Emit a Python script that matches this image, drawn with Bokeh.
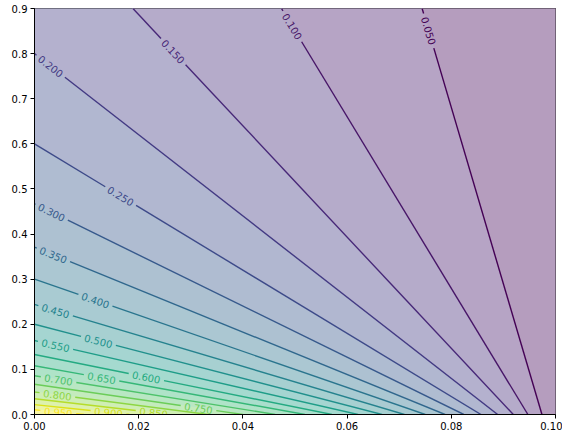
import math
from bokeh.plotting import figure
from bokeh.models import Range1d, FixedTicker, ColumnDataSource
from bokeh.core.properties import value
from bokeh.palettes import Viridis256
from bokeh.embed import file_html
from bokeh.resources import INLINE

# ---- data ----
levels = [0.05, 0.10, 0.15, 0.20, 0.25, 0.30, 0.35, 0.40, 0.45, 0.50,
          0.55, 0.60, 0.65, 0.70, 0.75, 0.80, 0.85, 0.90, 0.95]
# where each contour line meets the frame (start: top/left edge, end: bottom edge)
start_x = [0.0744, 0.0474, 0.0189, 0.0, 0.0, 0.0, 0.0, 0.0, 0.0, 0.0,
           0.0, 0.0, 0.0, 0.0, 0.0, 0.0, 0.0, 0.0, 0.0]
start_y = [0.9, 0.9, 0.9, 0.80, 0.60, 0.467, 0.371, 0.300, 0.244, 0.200,
           0.164, 0.133, 0.108, 0.086, 0.067, 0.050, 0.035, 0.022, 0.0105]
end_x = [0.0974, 0.0947, 0.0919, 0.0889, 0.0857, 0.0824, 0.0788, 0.0750, 0.0710, 0.0667,
         0.0621, 0.0571, 0.0519, 0.0462, 0.0400, 0.0333, 0.0261, 0.0182, 0.0095]
end_y = [0.0] * 19
field_min, field_max = 0.0, 1.0

x_ticks = [0.00, 0.02, 0.04, 0.06, 0.08, 0.10]
x_tick_labels = ["0.00", "0.02", "0.04", "0.06", "0.08", "0.10"]
y_ticks = [0.0, 0.1, 0.2, 0.3, 0.4, 0.5, 0.6, 0.7, 0.8, 0.9]
y_tick_labels = ["0.0", "0.1", "0.2", "0.3", "0.4", "0.5", "0.6", "0.7", "0.8", "0.9"]

# ---- layout / style ----
label_pos = [0.055, 0.044, 0.106, 0.035, 0.193, 0.040, 0.046, 0.156, 0.057, 0.184,
             0.065, 0.376, 0.248, 0.100, 0.787, 0.132, 0.876, 0.780, 0.480]
X0, X1, Y0, Y1 = 0.0, 0.1, 0.0, 0.9
W, H = 562, 435
BL, BR, BT, BB = 34, 7, 8, 21
FW, FH = W - BL - BR, H - BT - BB
sx, sy = FW / (X1 - X0), FH / (Y1 - Y0)
GAP = 18.0
ALPHA = 0.4


def viridis(v):
    v = min(max(v, 0.0), 1.0)
    return Viridis256[int(round(v * 255))]


def blend(hexc, a=ALPHA):
    rgb = [int(hexc[i:i + 2], 16) for i in (1, 3, 5)]
    return "#%02x%02x%02x" % tuple(int(round(a * c + (1 - a) * 255)) for c in rgb)


p = figure(width=W, height=H, x_range=Range1d(X0, X1), y_range=Range1d(Y0, Y1),
           output_backend="svg", toolbar_location=None,
           min_border_left=BL, min_border_right=BR, min_border_top=BT, min_border_bottom=BB)
p.background_fill_color = "white"
p.border_fill_color = "white"
p.grid.visible = False
p.outline_line_color = "black"
p.outline_line_width = 1

# ---- background bands ----
n = len(levels)
band_xs, band_ys, band_cols = [], [], []
norm = lambda v: (v - field_min) / (field_max - field_min)
band_xs.append([start_x[0], X1, X1, end_x[0]])
band_ys.append([start_y[0], Y1, Y0, end_y[0]])
band_cols.append(blend(viridis(norm((field_min + levels[0]) / 2))))
for i in range(n - 1):
    xs = [start_x[i], end_x[i], end_x[i + 1], start_x[i + 1]]
    ys = [start_y[i], end_y[i], end_y[i + 1], start_y[i + 1]]
    if start_y[i] >= Y1 and start_y[i + 1] < Y1:
        xs.append(X0)
        ys.append(Y1)
    band_xs.append(xs)
    band_ys.append(ys)
    band_cols.append(blend(viridis(norm((levels[i] + levels[i + 1]) / 2))))
band_xs.append([start_x[-1], end_x[-1], X0])
band_ys.append([start_y[-1], end_y[-1], Y0])
band_cols.append(blend(viridis(norm((levels[-1] + field_max) / 2))))

p.patches(xs=band_xs, ys=band_ys, fill_color=band_cols, fill_alpha=1.0,
          line_color=band_cols, line_width=1)

# ---- contour lines with label gaps ----
lmin, lmax = min(levels), max(levels)
sx0, sy0, sx1, sy1, scol = [], [], [], [], []
tx, ty, tang, ttext, tcol = [], [], [], [], []
for i, L in enumerate(levels):
    col = viridis((L - lmin) / (lmax - lmin))
    dx, dy = end_x[i] - start_x[i], end_y[i] - start_y[i]
    px, py = dx * sx, dy * sy
    length = math.hypot(px, py)
    t = label_pos[i]
    cx, cy = start_x[i] + t * dx, start_y[i] + t * dy
    g = GAP / length
    t0, t1 = t - g, t + g
    if t0 > 0:
        sx0.append(start_x[i]); sy0.append(start_y[i])
        sx1.append(start_x[i] + t0 * dx); sy1.append(start_y[i] + t0 * dy)
        scol.append(col)
    if t1 < 1:
        sx0.append(start_x[i] + t1 * dx); sy0.append(start_y[i] + t1 * dy)
        sx1.append(end_x[i]); sy1.append(end_y[i])
        scol.append(col)
    tx.append(cx); ty.append(cy)
    tang.append(math.atan2(py, px))
    ttext.append("%.3f" % L)
    tcol.append(col)

p.segment(x0=sx0, y0=sy0, x1=sx1, y1=sy1, line_color=scol, line_width=1.4)

src = ColumnDataSource(dict(x=tx, y=ty, angle=tang, text=ttext, color=tcol))
p.text(x="x", y="y", text="text", angle="angle", text_color="color", source=src,
       text_font=value("DejaVu Sans"), text_font_size="10px",
       text_align="center", text_baseline="middle")

# ---- axes ----
p.xaxis.ticker = FixedTicker(ticks=x_ticks)
p.yaxis.ticker = FixedTicker(ticks=y_ticks)
p.xaxis.major_label_overrides = dict(zip(x_ticks, x_tick_labels))
p.yaxis.major_label_overrides = dict(zip(y_ticks, y_tick_labels))
for ax in (p.xaxis, p.yaxis):
    ax.major_label_text_font = "DejaVu Sans"
    ax.major_label_text_font_size = "10px"
    ax.major_label_text_color = "black"
    ax.axis_line_color = "black"
    ax.major_tick_line_color = "black"
    ax.major_tick_out = 4
    ax.major_tick_in = 0
    ax.minor_tick_line_color = None
    ax.major_label_standoff = 3

open("out.html", "w").write(file_html(p, INLINE))
